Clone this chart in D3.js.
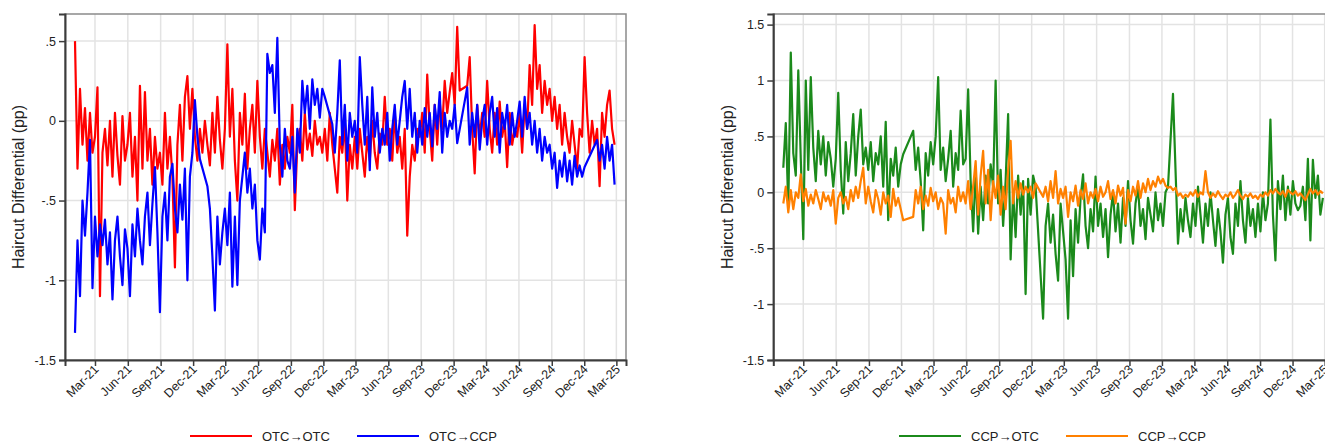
<!DOCTYPE html>
<html>
<head>
<meta charset="utf-8">
<script src="https://cdn.jsdelivr.net/npm/d3@7"></script>
<style>
  body { margin: 0; background: #fff; overflow: hidden; }
  svg { display: block; }
  text { font-family: "Liberation Sans", Arial, Helvetica, sans-serif; fill: #222; }
</style>
</head>
<body>
<svg id="chart" width="1325" height="444"></svg>
<script>
// Weekly observations, Monday 4 Jan 2021 through Monday 24 Feb 2025 (217 weeks)
const weeks = d3.timeMonday.range(new Date(2021, 0, 4), new Date(2025, 1, 25));

const xTickLabels = ["Mar-21","Jun-21","Sep-21","Dec-21","Mar-22","Jun-22","Sep-22","Dec-22",
  "Mar-23","Jun-23","Sep-23","Dec-23","Mar-24","Jun-24","Sep-24","Dec-24","Mar-25"];
const leftYTicks = [-1.5, -1, -0.5, 0, 0.5];
const rightYTicks = [-1.5, -1, -0.5, 0, 0.5, 1, 1.5];
const yTitle = "Haircut Differential (pp)";

// OTC→OTC haircut differential (pp); null = no observation that week
const otcToOtc = [
  0.50, -0.30, 0.20, -0.15, 0.08, -0.25, 0.05, -0.20,
  -0.10, 0.21, -1.10, -0.20, -0.05, -0.28, 0.00, -0.35, 0.05, -0.22, -0.40, 0.03, -0.25,
  -0.15, 0.05, -0.35, -0.10, -0.50, 0.22, -0.30, 0.18, -0.25, -0.05, -0.40, -0.10, -0.30,
  -0.20, -0.40, 0.05, -0.30, -0.10, -0.35, -0.92, -0.15, 0.10, -0.25, 0.15, 0.28, -0.05,
  0.20, -0.10, -0.25, -0.05, -0.20, 0.00, -0.15, -0.28, 0.05, -0.20, 0.15, -0.12, -0.30,
  -0.05, 0.48, -0.10, 0.20, -0.25, -0.50, 0.05, -0.15, 0.17, -0.30, -0.05, 0.10, -0.20,
  0.25, -0.10, -0.30, -0.05, -0.20, -0.35, -0.12, -0.25, -0.05, -0.40, -0.15, -0.30, -0.10,
  -0.20, 0.10, -0.56, -0.15, -0.05, -0.25, 0.05, -0.18, -0.08, -0.22, 0.00, -0.15, -0.10,
  -0.20, -0.05, -0.25, 0.05, -0.15, -0.30, -0.45, -0.10, -0.20, 0.00, -0.50, -0.15, -0.30,
  -0.10, -0.30, -0.05, -0.20, -0.35, -0.10, -0.25, 0.00, -0.20, -0.30, -0.08, -0.15, 0.15,
  -0.15, -0.05, -0.25, 0.05, -0.20, -0.10, -0.30, -0.05, -0.72, -0.35, -0.15, -0.25, -0.05,
  -0.10, 0.05, -0.20, 0.29, -0.05, -0.25, 0.10, -0.15, 0.12, -0.05, 0.25, 0.05, 0.18,
  0.30, 0.10, 0.59, 0.19, null, null, 0.22, 0.40, -0.05, -0.33, 0.10, -0.10, 0.05,
  -0.10, 0.25, -0.05, -0.20, 0.05, -0.15, 0.12, -0.10, 0.00, -0.29, 0.05, -0.15, -0.05,
  -0.10, 0.05, -0.20, 0.10, -0.05, 0.35, 0.10, 0.60, 0.20, 0.35, 0.05, 0.25, 0.10,
  0.20, 0.00, 0.15, -0.05, 0.10, -0.15, 0.05, -0.10, -0.20, 0.00, -0.15, -0.30, -0.05,
  -0.10, 0.40, 0.05, -0.20, 0.00, -0.15, -0.05, -0.41, 0.05, -0.10, 0.10, 0.19, -0.05, -0.15
];

// OTC→CCP
const otcToCcp = [
  -1.33, -0.75, -1.10, -0.50, -0.72, -0.45, -0.12, -1.05,
  -0.60, -0.85, -0.65, -0.78, -0.62, -0.90, -0.70, -1.12, -0.75, -0.60, -0.85, -1.03, -0.68,
  -0.80, -1.10, -0.65, -0.85, -0.55, -0.75, -0.90, -0.60, -0.45, -0.78, -0.52, -0.29, -0.70,
  -1.20, -0.60, -0.45, -0.75, -0.35, -0.27, -0.55, -0.70, -0.40, -0.62, -0.30, -1.00, -0.35,
  -0.20, 0.13, -0.10, -0.24, null, null, -0.41, -0.55, -0.85, -1.19, -0.60, -0.90, -0.70,
  -0.55, -0.78, -0.45, -1.04, -0.60, -1.03, -0.50, -0.35, -0.20, -0.45, -0.30, -0.55, -0.40,
  -0.75, -0.87, -0.55, -0.70, 0.42, 0.30, 0.35, 0.05, 0.52, -0.15, -0.35, -0.05, -0.25,
  -0.30, -0.10, -0.45, -0.05, -0.20, 0.25, 0.05, 0.22, -0.05, 0.26, 0.10, 0.20, 0.02,
  0.20, 0.15, null, null, -0.02, -0.20, 0.05, 0.38, -0.15, 0.10, -0.25, 0.05, -0.10,
  0.00, -0.20, 0.40, 0.10, -0.15, 0.15, -0.31, 0.21, -0.10, 0.05, -0.20, -0.05, -0.15,
  0.05, -0.25, -0.05, 0.10, -0.15, 0.00, 0.15, 0.25, -0.05, 0.20, -0.10, 0.05, -0.20,
  0.00, -0.15, 0.08, -0.10, 0.05, -0.16, 0.10, -0.05, 0.18, -0.20, 0.05, -0.10, 0.00,
  -0.05, 0.10, -0.14, null, null, null, 0.21, -0.15, 0.05, -0.10, 0.10, -0.18, 0.00,
  0.10, -0.15, 0.05, 0.15, -0.10, 0.08, -0.20, 0.05, -0.05, 0.10, -0.15, 0.05, -0.10,
  0.00, 0.12, -0.10, 0.15, -0.05, 0.05, -0.15, 0.00, -0.20, -0.05, -0.25, -0.10, -0.20,
  -0.15, -0.30, -0.20, -0.42, -0.25, -0.35, -0.20, -0.38, -0.25, -0.40, -0.22, -0.35, -0.28,
  -0.35, -0.29, null, null, null, null, -0.12, -0.25, -0.15, -0.30, -0.10, -0.25, -0.15, -0.40
];

// CCP→OTC
const ccpToOtc = [
  0.22, 0.62, -0.13, 1.25, 0.35, 0.15, 1.09, 0.30,
  -0.42, 1.00, 0.20, 1.03, 0.40, 0.10, 0.55, 0.25, 0.50, 0.15, 0.45, 0.30, 0.05,
  0.30, 0.89, 0.20, -0.19, 0.45, 0.10, 0.35, 0.70, 0.15, 0.50, 0.74, 0.25, 0.40,
  0.20, 0.45, 0.10, 0.35, 0.25, 0.50, 0.05, 0.63, -0.25, 0.30, 0.15, 0.40, 0.05,
  0.25, 0.34, null, null, null, 0.55, 0.20, 0.40, 0.10, -0.34, 0.35, 0.15, 0.45,
  0.25, 0.50, 1.03, 0.20, 0.40, 0.10, 0.30, 0.55, 0.05, 0.35, 0.20, 0.73, 0.25,
  0.30, 0.92, 0.10, -0.35, 0.20, -0.37, 0.05, -0.25, 0.15, -0.10, 0.25, 0.05, 1.00,
  -0.10, 0.20, -0.30, 0.10, 0.70, -0.60, 0.00, -0.40, 0.15, -0.20, 0.10, -0.91, 0.12,
  -0.20, 0.15, 0.05, null, null, -1.13, -0.30, -0.10, -0.45, -0.20, -0.55, -0.79, -0.10,
  -0.35, -0.60, -1.13, -0.25, -0.75, -0.15, -0.45, -0.05, 0.16, -0.30, -0.50, -0.15, -0.35,
  0.14, -0.30, -0.10, -0.40, -0.15, -0.58, -0.20, 0.00, -0.35, -0.10, -0.45, -0.05, -0.30,
  0.10, -0.25, -0.46, -0.10, 0.05, -0.30, -0.15, -0.42, -0.05, -0.20, -0.35, 0.00, -0.25,
  -0.10, -0.30, 0.00, 0.05, null, 0.88, null, -0.46, -0.15, -0.35, -0.05, -0.25, -0.40,
  -0.10, -0.30, 0.05, -0.20, -0.45, -0.10, -0.30, 0.00, -0.25, -0.48, -0.15, -0.35, -0.63,
  -0.20, -0.05, -0.40, -0.55, -0.10, -0.30, 0.10, -0.25, -0.45, -0.05, -0.30, -0.15, -0.40,
  -0.10, -0.35, 0.00, -0.25, -0.10, 0.65, -0.20, -0.61, 0.10, -0.15, 0.15, -0.25, 0.05,
  -0.20, 0.10, -0.10, -0.16, -0.12, 0.05, -0.25, 0.30, -0.43, 0.29, -0.05, 0.15, -0.20, -0.05
];

// CCP→CCP
const ccpToCcp = [
  -0.10, 0.05, -0.18, 0.02, -0.15, 0.00, -0.05, 0.16,
  -0.08, 0.03, -0.12, -0.02, -0.10, 0.02, -0.06, -0.15, 0.00, -0.08, -0.03, -0.12, 0.02,
  -0.28, -0.05, 0.00, -0.10, -0.04, -0.15, 0.02, -0.08, 0.05, -0.05, 0.10, 0.22, -0.10,
  0.05, -0.08, -0.18, 0.02, -0.06, -0.20, 0.00, -0.10, -0.03, -0.22, 0.03, -0.12, -0.05,
  -0.15, -0.25, null, null, null, -0.22, 0.02, -0.10, 0.05, -0.15, -0.03, -0.12, 0.04,
  -0.08, 0.00, -0.15, -0.05, -0.10, -0.37, 0.02, -0.10, -0.05, -0.18, 0.05, -0.08, 0.00,
  -0.10, 0.10, -0.15, 0.05, 0.28, -0.20, 0.15, 0.37, -0.10, 0.20, -0.25, 0.10, -0.05,
  0.15, -0.20, 0.05, -0.15, 0.20, 0.46, -0.10, 0.10, -0.05, 0.08, -0.02, 0.05, 0.00,
  0.05, -0.05, 0.08, null, null, -0.04, 0.05, -0.08, 0.10, -0.05, 0.19, -0.10, 0.03,
  -0.05, 0.05, -0.22, 0.00, -0.08, 0.06, -0.12, 0.02, -0.06, 0.08, -0.10, 0.00, -0.05,
  0.03, -0.08, 0.05, -0.04, 0.00, 0.10, -0.06, 0.02, -0.10, 0.06, -0.03, 0.04, -0.28,
  0.02, -0.08, 0.05, -0.03, 0.10, -0.05, 0.08, 0.00, 0.12, 0.02, 0.10, 0.05, 0.14,
  0.08, 0.12, 0.06, 0.04, 0.05, 0.02, 0.04, -0.03, -0.01, -0.05, -0.02, -0.04, 0.00,
  -0.03, 0.02, -0.04, 0.00, -0.02, 0.19, 0.00, -0.05, -0.01, -0.04, 0.01, -0.03, -0.06,
  -0.02, -0.04, 0.00, -0.05, -0.02, 0.02, -0.03, -0.06, -0.02, -0.04, -0.01, -0.05, -0.03,
  -0.06, -0.02, -0.04, 0.00, -0.03, 0.02, -0.01, 0.03, 0.00, -0.02, 0.01, -0.04, 0.02,
  0.00, -0.02, 0.01, -0.03, -0.01, -0.04, -0.07, -0.02, 0.03, -0.01, 0.02, -0.02, 0.01, -0.01
];

const parseTick = d3.timeParse("%b-%y");
const xTickDates = xTickLabels.map(parseTick);
const stataFmt = v => String(v).replace("0.", ".");

const svg = d3.select("#chart");

function drawPanel(cfg) {
  const { left, top, width, height, yDomain, yTicks, series, legend, titleX } = cfg;
  const g = svg.append("g").attr("transform", `translate(${left},${top})`);

  const x = d3.scaleTime()
    .domain([new Date(2020, 11, 7), new Date(2025, 2, 28)])
    .range([0, width]);
  const y = d3.scaleLinear().domain(yDomain).range([height, 0]);

  // grid
  g.append("g").selectAll("line").data(xTickDates).join("line")
    .attr("x1", d => x(d)).attr("x2", d => x(d))
    .attr("y1", 0).attr("y2", height)
    .attr("stroke", "#e3e3e3").attr("stroke-width", 1.5);
  g.append("g").selectAll("line").data(yTicks).join("line")
    .attr("x1", 0).attr("x2", width)
    .attr("y1", d => y(d)).attr("y2", d => y(d))
    .attr("stroke", "#e3e3e3").attr("stroke-width", 1.5);

  // series
  const line = d3.line()
    .x(d => x(d.date))
    .y(d => y(d.value));
  series.forEach(s => {
    const pts = weeks.map((date, i) => ({ date, value: s.values[i] }))
      .filter(d => d.value !== null && d.value !== undefined);
    g.append("path")
      .datum(pts)
      .attr("d", line)
      .attr("fill", "none")
      .attr("stroke", s.color)
      .attr("stroke-width", 2.2)
      .attr("stroke-linejoin", "round");
  });

  // frame (top/right lighter)
  g.append("rect")
    .attr("x", 0).attr("y", 0).attr("width", width).attr("height", height)
    .attr("fill", "none").attr("stroke", "#8a8a8a").attr("stroke-width", 1.5);

  // axes
  const yAxis = d3.axisLeft(y).tickValues(yTicks).tickFormat(stataFmt).tickSize(6).tickPadding(3);
  const yg = g.append("g").call(yAxis);
  yg.select(".domain").attr("stroke", "#3c3c3c").attr("stroke-width", 2);
  yg.selectAll(".tick line").attr("stroke", "#3c3c3c").attr("stroke-width", 1.5);
  yg.selectAll(".tick text").attr("font-size", 12.5).attr("fill", "#222")
    .style("font-family", '"Liberation Sans", Arial, sans-serif');

  const xAxis = d3.axisBottom(x).tickValues(xTickDates)
    .tickFormat((d, i) => xTickLabels[i]).tickSize(6).tickPadding(3);
  const xg = g.append("g").attr("transform", `translate(0,${height})`).call(xAxis);
  xg.select(".domain").attr("stroke", "#3c3c3c").attr("stroke-width", 2);
  xg.selectAll(".tick line").attr("stroke", "#3c3c3c").attr("stroke-width", 1.5);
  xg.selectAll(".tick text")
    .attr("font-size", 12.5).attr("fill", "#222")
    .style("font-family", '"Liberation Sans", Arial, sans-serif')
    .attr("text-anchor", "end")
    .attr("dy", null).attr("y", 0)
    .attr("transform", "translate(4,10) rotate(-45)");

  // y title
  svg.append("text")
    .attr("transform", `translate(${titleX},${top + height / 2}) rotate(-90)`)
    .attr("text-anchor", "middle")
    .attr("font-size", 16)
    .text(yTitle);

  // legend
  legend.forEach(l => {
    svg.append("line")
      .attr("x1", l.x).attr("x2", l.x + 62)
      .attr("y1", 436).attr("y2", 436)
      .attr("stroke", l.color).attr("stroke-width", 2);
    svg.append("text")
      .attr("x", l.x + 72).attr("y", 440.5)
      .attr("font-size", 13)
      .text(l.label);
  });
}

drawPanel({
  left: 65, top: 14, width: 561, height: 346,
  yDomain: [-1.5, 0.67], yTicks: leftYTicks, titleX: 23.5,
  series: [
    { values: otcToOtc, color: "#ff0000" },
    { values: otcToCcp, color: "#0000ff" }
  ],
  legend: [
    { x: 190, color: "#ff0000", label: "OTC→OTC" },
    { x: 357, color: "#0000ff", label: "OTC→CCP" }
  ]
});

drawPanel({
  left: 773.3, top: 14, width: 561, height: 346,
  yDomain: [-1.5, 1.595], yTicks: rightYTicks, titleX: 732.5,
  series: [
    { values: ccpToOtc, color: "#1b8a1b" },
    { values: ccpToCcp, color: "#ff8000" }
  ],
  legend: [
    { x: 899, color: "#1b8a1b", label: "CCP→OTC" },
    { x: 1066, color: "#ff8000", label: "CCP→CCP" }
  ]
});
</script>
</body>
</html>
